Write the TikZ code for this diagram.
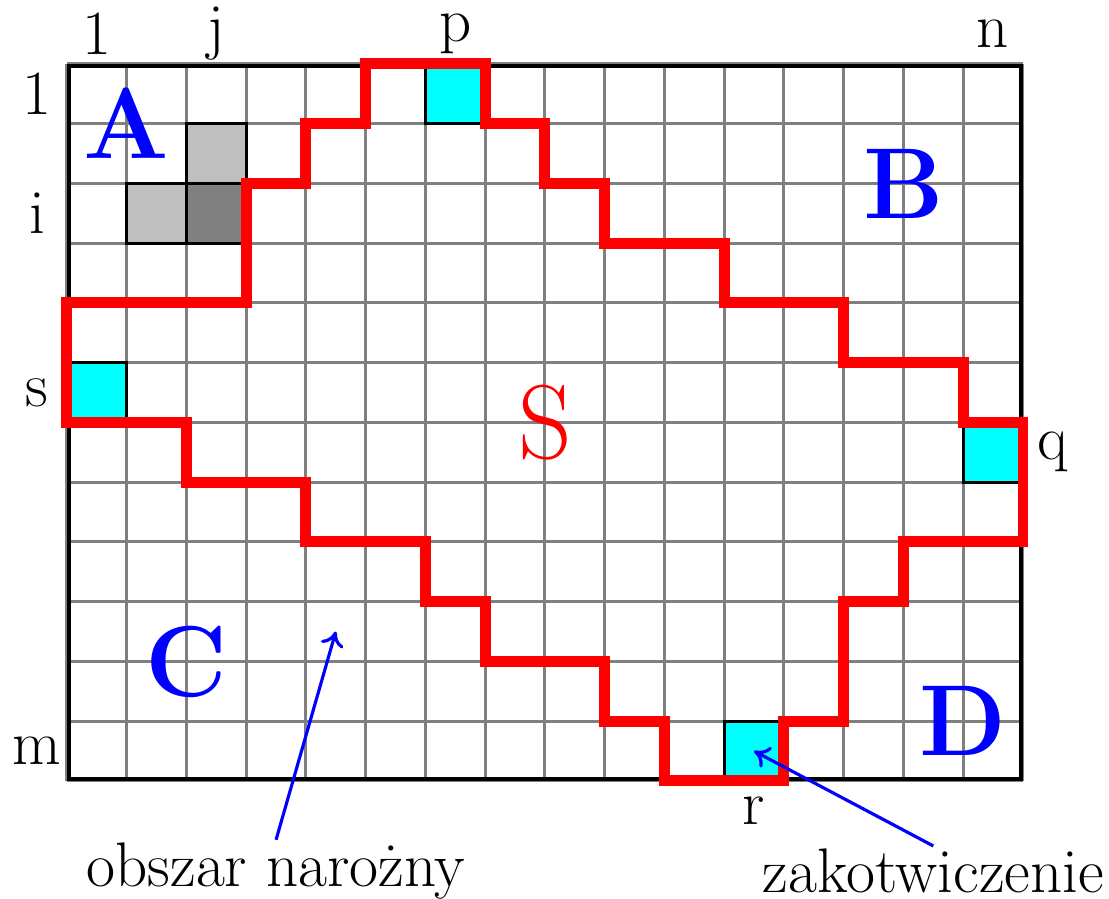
\documentclass[tikz,border=0pt]{standalone}
\usepackage{fontspec}
\usetikzlibrary{arrows.meta}
\definecolor{anchcol}{RGB}{0,255,255}

\begin{document}
\begin{tikzpicture}[
  every node/.style={font=\fontsize{30}{36}\selectfont},
  %% grid lines
  gridline/.style={draw=gray, line width=1.4pt},
  %% anchoring cells — cyan with black outline
  anchcell/.style={fill=anchcol, draw=black, line width=1.3pt},
  %% neighbour cells — light / dark grey
  nbrcell/.style={fill=lightgray, draw=black, line width=1.3pt},
  ctrcell/.style={fill=gray, draw=black, line width=1.3pt},
  %% boundary of region S
  bound/.style={draw=red, line width=5.2pt, line join=miter},
  %% corner region letters
  reg/.style={font=\fontsize{48}{56}\selectfont\bfseries, text=blue},
  %% callout arrows
  arr/.style={-{To[length=7pt,width=11pt]}, blue, line width=1.5pt},
]
\useasboundingbox (-1.12,-1.975) rectangle (17.44,13.07);

%%── Grid ─────────────────────────────────────────────────────────────────────
\draw[gridline] (0,0) grid (16,12);

%%── Shaded cells ─────────────────────────────────────────────────────────────
\draw[nbrcell] (2,10) rectangle (3,11);
\draw[nbrcell] (1,9) rectangle (2,10);
\draw[ctrcell] (2,9) rectangle (3,10);
\foreach \x/\y in {6/11, 0/6, 15/5, 11/0}
  \draw[anchcell] (\x,\y) rectangle ++(1,1);

%%── Frame ────────────────────────────────────────────────────────────────────
\draw[black, line width=1.8pt] (0.03,0.03) rectangle (15.97,11.97);

%%── Boundary of S ────────────────────────────────────────────────────────────
\draw[bound] (5,12) -- (7,12) -- (7,11) -- (8,11) -- (8,10) -- (9,10)
  -- (9,9) -- (11,9) -- (11,8) -- (13,8) -- (13,7) -- (15,7) -- (15,6)
  -- (16,6) -- (16,4) -- (14,4) -- (14,3) -- (13,3) -- (13,1) -- (12,1)
  -- (12,0) -- (10,0) -- (10,1) -- (9,1) -- (9,2) -- (7,2) -- (7,3)
  -- (6,3) -- (6,4) -- (4,4) -- (4,5) -- (2,5) -- (2,6) -- (0,6)
  -- (0,8) -- (3,8) -- (3,10) -- (4,10) -- (4,11) -- (5,11) -- cycle;

%%── Region letters ───────────────────────────────────────────────────────────
\node[reg] (A) at (1,11) {A};
\node[reg] (B) at (14,10) {B};
\node[reg] (C) at (2,2) {C};
\node[reg] (D) at (15,1) {D};
\node[font=\fontsize{50}{58}\selectfont, text=red] (S) at (8,6) {S};

%%── Index labels ─────────────────────────────────────────────────────────────
\foreach \t/\x in {1/0.5, j/2.5, p/6.5, n/15.5}
  \node (col\t) at (\x,12.5) {\t};
\foreach \t/\y in {1/11.5, i/9.5, s/6.5, m/0.5}
  \node (row\t) at (-0.5,\y) {\t};
\node (q) at (16.5,5.5) {q};
\node (r) at (11.5,-0.5) {r};

%%── Callouts ─────────────────────────────────────────────────────────────────
\node[inner sep=1pt] (cornertxt) at (3.5,-1.5) {obszar narożny};
\node[inner sep=1pt] (anchtxt) at (14.5,-1.5) {zakotwiczenie};
\coordinate (cornerpt) at (4.5,2.5);
\coordinate (anchpt) at (11.5,0.5);
\draw[arr] (cornertxt.north) -- (cornerpt);
\draw[arr] (anchtxt.north) -- (anchpt);

\end{tikzpicture}
\end{document}
